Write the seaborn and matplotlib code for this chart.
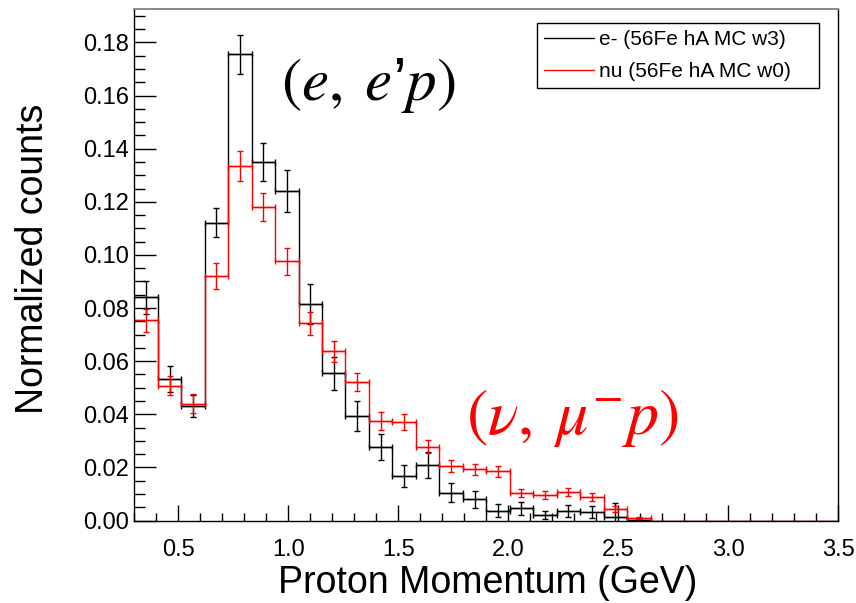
import numpy as np
import pandas as pd
import matplotlib
matplotlib.use("Agg")
import matplotlib.pyplot as plt
from matplotlib.lines import Line2D
from matplotlib.ticker import MultipleLocator, FormatStrFormatter
import seaborn as sns

# ---- data ----
bin_edges = np.linspace(0.3, 3.5, 31)
e_values = [0.0841, 0.0532, 0.0432, 0.1121, 0.1755, 0.1350, 0.1241, 0.0815,
            0.0554, 0.0394, 0.0276, 0.0168, 0.0209, 0.0105, 0.0080, 0.0037,
            0.0046, 0.0020, 0.0036, 0.0031, 0.0015, 0.0003, 0, 0, 0, 0, 0, 0, 0, 0]
e_errors = [0.0062, 0.0049, 0.0041, 0.0055, 0.0073, 0.0070, 0.0078, 0.0075,
            0.0062, 0.0056, 0.0050, 0.0042, 0.0050, 0.0035, 0.0033, 0.0025,
            0.0025, 0.0015, 0.0022, 0.0022, 0.0050, 0.0003, 0, 0, 0, 0, 0, 0, 0, 0]
nu_values = [0.0754, 0.0507, 0.0440, 0.0920, 0.1334, 0.1181, 0.0976, 0.0743,
             0.0637, 0.0522, 0.0374, 0.0371, 0.0278, 0.0205, 0.0193, 0.0185,
             0.0105, 0.0096, 0.0108, 0.0087, 0.0043, 0.0010, 0, 0, 0, 0, 0, 0, 0, 0]
nu_errors = [0.0043, 0.0036, 0.0035, 0.0048, 0.0057, 0.0053, 0.0050, 0.0043,
             0.0039, 0.0035, 0.0033, 0.0030, 0.0025, 0.0022, 0.0020, 0.0020,
             0.0015, 0.0015, 0.0015, 0.0015, 0.0010, 0.0005, 0, 0, 0, 0, 0, 0, 0, 0]
series_labels = ["e- (56Fe hA MC w3)", "nu (56Fe hA MC w0)"]
series_colors = ["black", "#ff0000"]
x_label = "Proton Momentum (GeV)"
y_label = "Normalized counts"
x_ticks = [0.5, 1.0, 1.5, 2.0, 2.5, 3.0, 3.5]
y_ticks = [0.00, 0.02, 0.04, 0.06, 0.08, 0.10, 0.12, 0.14, 0.16, 0.18]

sns.set_style("white")
plt.rcParams['font.family'] = ['Liberation Sans', 'DejaVu Sans']
plt.rcParams['mathtext.fontset'] = 'stix'
plt.rcParams['text.color'] = 'black'
plt.rcParams['axes.labelcolor'] = 'black'

centers = 0.5 * (bin_edges[:-1] + bin_edges[1:])
halfw = 0.5 * np.diff(bin_edges)

fig = plt.figure(figsize=(8.56, 6.03), dpi=100)
ax = fig.add_axes([0.1569, 0.1368, 0.8224, 0.8478])

for vals, errs, col in [(e_values, e_errors, series_colors[0]),
                        (nu_values, nu_errors, series_colors[1])]:
    df = pd.DataFrame({"x": centers, "w": vals})
    sns.histplot(data=df, x="x", weights="w", bins=list(bin_edges), element="step",
                 fill=False, color=col, linewidth=1.0, ax=ax, stat="count")
    vals = np.asarray(vals); errs = np.asarray(errs)
    m = vals > 0
    ax.errorbar(centers[m], vals[m], yerr=errs[m], xerr=halfw[m], fmt="none",
                ecolor=col, elinewidth=1.0, capsize=2.3, capthick=1.0)

ax.set_xlim(0.3, 3.5)
ax.set_ylim(0, 0.1925)

ax.set_xticks(x_ticks)
ax.set_yticks(y_ticks)
ax.xaxis.set_major_formatter(FormatStrFormatter("%.1f"))
ax.yaxis.set_major_formatter(FormatStrFormatter("%.2f"))
ax.xaxis.set_minor_locator(MultipleLocator(0.1))
ax.yaxis.set_minor_locator(MultipleLocator(0.005))
ax.tick_params(axis="both", which="both", direction="in", top=False, right=False,
               bottom=True, left=True, labelsize=17, colors="black", width=1.0)
ax.tick_params(axis="y", which="major", length=15.6, pad=4)
ax.tick_params(axis="y", which="minor", length=7.7)
ax.tick_params(axis="x", which="major", length=11.5, pad=13)
ax.tick_params(axis="x", which="minor", length=5.8)

for s in ["left", "bottom", "right"]:
    ax.spines[s].set_color("black")
    ax.spines[s].set_linewidth(1.0)
ax.spines["top"].set_color("#808080")
ax.spines["top"].set_linewidth(1.3)

ax.set_xlabel(x_label, fontsize=27, color="black")
ax.set_ylabel(y_label, fontsize=27, color="black")
ax.xaxis.set_label_coords(0.5025, -0.088)
ax.yaxis.set_label_coords(-0.1185, 0.5115)

handles = [Line2D([], [], color=series_colors[0], lw=1.0),
           Line2D([], [], color=series_colors[1], lw=1.0)]
leg = ax.legend(handles, series_labels, loc="upper left",
                bbox_to_anchor=(0.572, 0.842, 0.4006, 0.131), mode="expand",
                fontsize=15, frameon=True, fancybox=False, framealpha=1,
                edgecolor="black", handlelength=2.4, handletextpad=0.25,
                labelspacing=0.6, borderpad=0.35, borderaxespad=0)
leg.get_frame().set_linewidth(1.0)
for t in leg.get_texts():
    t.set_color("black")

ax.text(0.333, 0.85, r"$(e,\;e$’$p)$", transform=ax.transAxes, fontsize=44,
        color="black", ha="center", va="center")
ax.text(0.6225, 0.2, r"$(\nu,\;\mu^{-}p)$", transform=ax.transAxes, fontsize=46,
        color="#ff0000", ha="center", va="center")

fig.savefig("out.png", dpi=100)
